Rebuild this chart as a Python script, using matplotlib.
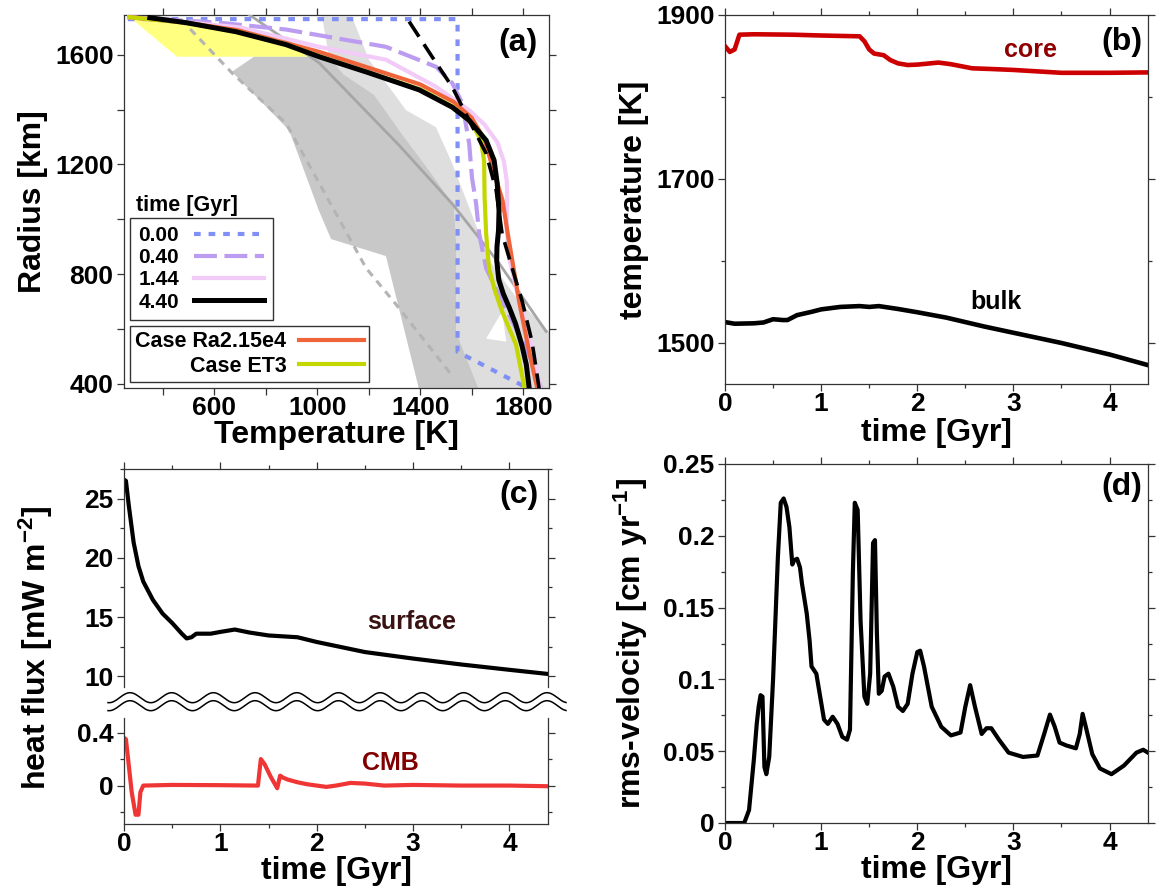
import numpy as np
import matplotlib.pyplot as plt
from matplotlib.lines import Line2D
from matplotlib.ticker import MultipleLocator, FuncFormatter

plt.rcParams['font.family'] = ['Liberation Sans', 'DejaVu Sans']
plt.rcParams['font.weight'] = 'bold'
plt.rcParams['axes.labelweight'] = 'bold'
plt.rcParams['mathtext.fontset'] = 'custom'
plt.rcParams['mathtext.rm'] = 'Liberation Sans:bold'
plt.rcParams['mathtext.it'] = 'Liberation Sans:bold'
plt.rcParams['mathtext.bf'] = 'Liberation Sans:bold'

W, H = 1156, 890

# ---------------- (a) temperature profiles: T [K], radius [km]
T_000 = [265, 1545, 1545, 1808]
R_000 = [1730, 1730, 517, 389]
T_040 = [265, 619, 879, 1267, 1462, 1524, 1563, 1590, 1601, 1617, 1629, 1656, 1718, 1784, 1834, 1870]
R_040 = [1737, 1717, 1692, 1629, 1556, 1497, 1424, 1277, 1152, 1057, 947, 822, 701, 580, 481, 382]
T_144 = [270, 700, 1007, 1267, 1462, 1590, 1650, 1700, 1725, 1736, 1738, 1735, 1745, 1775, 1810, 1845, 1866]
R_144 = [1737, 1700, 1629, 1582, 1483, 1398, 1345, 1280, 1210, 1140, 1070, 980, 860, 740, 620, 490, 382]
T_440 = [350, 491, 685, 879, 1007, 1201, 1396, 1524, 1590, 1656, 1687, 1699, 1706, 1704, 1698, 1697, 1705,
         1722, 1745, 1770, 1795, 1812, 1823]
R_440 = [1735, 1717, 1684, 1637, 1593, 1534, 1472, 1409, 1361, 1288, 1215, 1130, 1031, 960, 900, 850, 780,
         730, 680, 620, 540, 470, 385]
T_ra = [270, 480, 690, 1010, 1400, 1530, 1600, 1650, 1690, 1720, 1740, 1784, 1823, 1855]
R_ra = [1737, 1718, 1690, 1610, 1492, 1428, 1370, 1290, 1160, 1068, 947, 701, 517, 382]
T_et3 = [270, 490, 690, 880, 1010, 1200, 1400, 1525, 1600, 1635, 1648, 1650, 1656, 1667, 1690, 1718, 1772, 1805]
R_et3 = [1737, 1717, 1684, 1638, 1594, 1535, 1474, 1412, 1350, 1290, 1215, 1079, 947, 822, 740, 664, 543, 385]
T_adiab = [1357, 1446, 1524, 1590, 1656, 1695, 1718, 1757, 1796, 1834, 1862]
R_adiab = [1721, 1593, 1483, 1361, 1240, 1105, 947, 822, 701, 554, 382]
T_gray = [735, 1007, 1318, 1524, 1706, 1889]
R_gray = [1747, 1571, 1270, 1057, 840, 591]
T_grayd = [470, 669, 879, 1050, 1190, 1306, 1524]
R_grayd = [1730, 1534, 1350, 1060, 822, 690, 430]

# shaded ranges
T_dark = [669, 755, 1046, 1104, 1221, 1318, 1434, 1531, 1539, 1539, 1629, 1396, 1267, 1054, 1007, 891]
R_dark = [1538, 1593, 1593, 1527, 1453, 1325, 1178, 1050, 921, 591, 378, 378, 866, 928, 1031, 1325]
T_mid = [1019, 1135, 1201, 1345, 1461, 1524, 1580, 1670, 1784, 1900, 1900, 1629, 1539, 1539, 1531, 1318,
         1104, 1046]
R_mid = [1739, 1739, 1582, 1398, 1336, 1204, 1068, 848, 701, 591, 378, 378, 591, 921, 1050, 1325, 1527, 1593]
T_notch = [1656, 1718, 1734]
R_notch = [565, 664, 554]
T_yel = [269, 690, 1007, 1007, 456]
R_yel = [1739, 1690, 1610, 1593, 1593]

# ---------------- (b) temperatures vs time
t_core = [0, 0.05, 0.1, 0.15, 0.3, 0.7, 1.0, 1.4, 1.45, 1.5, 1.55, 1.6, 1.65, 1.72, 1.8, 1.9, 2.0, 2.22, 2.35, 2.57, 2.8, 3.0, 3.5, 4.0, 4.4]
T_core = [1862, 1855, 1858, 1876, 1876.5, 1876, 1875, 1874, 1868, 1858, 1853, 1852, 1851, 1845, 1841, 1839, 1839.5, 1842, 1840, 1835, 1834, 1833, 1829.5, 1829.5, 1830]
t_bulk = [0, 0.1, 0.3, 0.4, 0.5, 0.6, 0.65, 0.75, 0.9, 1.0, 1.2, 1.4, 1.5, 1.6, 1.8, 2.0, 2.3, 2.7, 3.0, 3.5, 4.0, 4.4]
T_bulk = [1525.5, 1523.5, 1524, 1525, 1529, 1528, 1528, 1534, 1538, 1541, 1544, 1545, 1544, 1545, 1541.5, 1537.5, 1531, 1520, 1512.5, 1500, 1486, 1473]

# ---------------- (c) heat flux
t_surf = [0, 0.02, 0.05, 0.1, 0.15, 0.2, 0.3, 0.4, 0.5, 0.6, 0.65, 0.7, 0.75, 0.9, 1.0, 1.15, 1.3, 1.5, 1.8, 2.0, 2.5, 3.0, 3.5, 4.0, 4.4]
q_surf = [26.6, 26.5, 24.4, 21.3, 19.3, 18.0, 16.45, 15.3, 14.5, 13.6, 13.2, 13.3, 13.6, 13.6, 13.75, 13.95, 13.7, 13.45, 13.3, 12.9, 12.05, 11.5, 11.0, 10.55, 10.2]
t_cmb = [0, 0.02, 0.08, 0.12, 0.15, 0.17, 0.2, 0.5, 1.0, 1.39, 1.42, 1.46, 1.52, 1.59, 1.62, 1.65, 1.7, 1.8, 1.9, 2.1, 2.2, 2.35, 2.5, 2.7, 3.0, 3.5, 4.0, 4.4]
q_cmb = [0.36, 0.35, -0.05, -0.22, -0.22, -0.05, 0.0, 0.005, 0.003, 0.0, 0.2, 0.16, 0.07, -0.02, 0.075, 0.06, 0.045, 0.025, 0.01, -0.01, 0.0, 0.02, 0.015, 0.0, 0.005, 0.0, 0.0, -0.005]

# ---------------- (d) rms velocity
t_v = [0, 0.2, 0.25, 0.3, 0.33, 0.35, 0.37, 0.39, 0.41, 0.43, 0.46, 0.5, 0.55, 0.58, 0.61, 0.64, 0.67, 0.7, 0.72,
       0.75, 0.78, 0.8, 0.85, 0.88, 0.9, 0.95, 0.98, 1.03, 1.07, 1.12, 1.17, 1.22, 1.27, 1.3, 1.33, 1.35, 1.38, 1.41,
       1.45, 1.48, 1.51, 1.54, 1.56, 1.58, 1.6, 1.63, 1.66, 1.7, 1.75, 1.8, 1.85, 1.9, 1.95, 2.0, 2.03, 2.07, 2.15,
       2.25, 2.35, 2.45, 2.5, 2.55, 2.6, 2.67, 2.72, 2.77, 2.85, 2.95, 3.1, 3.25, 3.32, 3.38, 3.43, 3.48, 3.55, 3.65,
       3.69, 3.72, 3.76, 3.82, 3.9, 4.02, 4.15, 4.28, 4.35, 4.4]
v_rms = [0, 0, 0.009, 0.044, 0.069, 0.081, 0.089, 0.088, 0.039, 0.034, 0.046, 0.1, 0.185, 0.223, 0.226, 0.22, 0.206,
         0.18, 0.183, 0.184, 0.178, 0.167, 0.146, 0.127, 0.109, 0.104, 0.092, 0.072, 0.069, 0.074, 0.069, 0.06, 0.058,
         0.065, 0.174, 0.223, 0.218, 0.141, 0.088, 0.083, 0.104, 0.195, 0.197, 0.132, 0.09, 0.092, 0.102, 0.104,
         0.095, 0.081, 0.078, 0.083, 0.104, 0.119, 0.12, 0.109, 0.081, 0.067, 0.061, 0.063, 0.081, 0.096, 0.081,
         0.062, 0.066, 0.066, 0.058, 0.049, 0.046, 0.047, 0.062, 0.0755, 0.067, 0.056, 0.054, 0.052, 0.062, 0.076,
         0.065, 0.048, 0.038, 0.034, 0.04, 0.049, 0.051, 0.049]

TICK = 19
LAB = 23


def px_axes(x0, y0, x1, y1):
    return fig.add_axes([x0 / W, 1 - y1 / H, (x1 - x0) / W, (y1 - y0) / H])


def style(ax, minor_len=3):
    for s in ax.spines.values():
        s.set_color('#333333')
        s.set_linewidth(0.9)
    ax.tick_params(which='both', direction='out', top=True, right=True,
                   color='#333333', width=0.9, labelsize=TICK, pad=2.5)
    ax.tick_params(axis='x', which='both', pad=1)
    ax.tick_params(which='major', length=5)
    ax.tick_params(which='minor', length=minor_len)


def xlabel_at(ax, text, top_px, ax_bottom_px, ax_h_px):
    ax.set_xlabel(text, fontsize=LAB)
    ax.xaxis.set_label_coords(0.5, (ax_bottom_px - top_px) / ax_h_px)
    ax.xaxis.label.set_va('top')


fig = plt.figure(figsize=(W / 100, H / 100), dpi=100)

# ---------- (a)
axA = px_axes(124, 15, 549, 388)
axA.fill(T_mid, R_mid, color='#dedede', lw=0, zorder=1)
axA.fill(T_dark, R_dark, color='#c8c8c8', lw=0, zorder=1)
axA.fill(T_notch, R_notch, color='white', lw=0, zorder=1.5)
axA.fill(T_yel, R_yel, color='#ffff55', alpha=0.75, lw=0, zorder=2)
axA.plot(T_gray, R_gray, color='#a6a6a6', lw=2, zorder=3)
axA.plot(T_grayd, R_grayd, color='#b4b4b4', lw=2.2, dashes=(2.5, 2), zorder=3)
l0, = axA.plot(T_000, R_000, color='#7f8ff5', lw=3, dashes=(1.6, 1.9), zorder=4)
l1, = axA.plot(T_040, R_040, color='#bb9cf0', lw=3, dashes=(5.5, 1.8), zorder=4)
l2, = axA.plot(T_144, R_144, color='#f2cbf8', lw=3, zorder=4)
lr, = axA.plot(T_ra, R_ra, color='#f0643c', lw=3, zorder=5)
lg, = axA.plot(T_et3, R_et3, color='#c4d600', lw=3, zorder=5)
l3, = axA.plot(T_440, R_440, color='black', lw=3.6, zorder=6, solid_joinstyle='round')
axA.plot(T_adiab, R_adiab, color='black', lw=2.6, dashes=(5, 2.5), zorder=6)
axA.set_xlim(250, 1900)
axA.set_ylim(385, 1745)
axA.set_xticks([600, 1000, 1400, 1800])
axA.set_xticks([400, 800, 1200, 1600], minor=True)
axA.set_yticks([400, 800, 1200, 1600])
axA.set_yticks([600, 1000, 1400], minor=True)
style(axA, minor_len=5)
xlabel_at(axA, 'Temperature [K]', 420, 388, 373)
axA.set_ylabel('Radius [km]', fontsize=LAB)
axA.yaxis.set_label_coords(-0.178, 0.5)
axA.text(0.974, 0.965, '(a)', transform=axA.transAxes, ha='right', va='top', fontsize=LAB)

leg1 = axA.legend([l0, l1, l2, l3], ['0.00', '0.40', '1.44', '4.40'], loc='upper left',
                  bbox_to_anchor=(0.014, 0.456), borderaxespad=0, markerfirst=False,
                  fontsize=15, handlelength=3.4, handletextpad=0.7, labelspacing=0.15,
                  borderpad=0.4, fancybox=False, edgecolor='#333333', framealpha=1)
leg1.get_frame().set_linewidth(1)
leg1.set_zorder(10)
axA.add_artist(leg1)
leg2 = axA.legend([lr, lg], ['Case Ra2.15e4', 'Case ET3'], loc='upper left',
                  bbox_to_anchor=(0.014, 0.166), borderaxespad=0, markerfirst=False,
                  fontsize=15.5, handlelength=3.0, handletextpad=0.6, labelspacing=0.15,
                  borderpad=0.25, fancybox=False, edgecolor='#333333', framealpha=1)
leg2.get_frame().set_linewidth(1)
leg2.set_zorder(10)
axA.text(0.028, 0.49, 'time [Gyr]', transform=axA.transAxes, ha='left', va='center', fontsize=15.5)

# ---------- (b)
axB = px_axes(725, 15, 1148, 384)
axB.plot(t_core, T_core, color='#cc0000', lw=3.3)
axB.plot(t_bulk, T_bulk, color='black', lw=3.3)
axB.set_xlim(0, 4.4)
axB.set_ylim(1450, 1900)
axB.set_yticks([1500, 1700, 1900])
axB.set_yticks([1600, 1800], minor=True)
axB.xaxis.set_major_locator(MultipleLocator(1))
axB.xaxis.set_minor_locator(MultipleLocator(0.5))
style(axB)
xlabel_at(axB, 'time [Gyr]', 418, 384, 369)
axB.set_ylabel('temperature [K]', fontsize=LAB)
axB.yaxis.set_label_coords(-0.18, 0.5)
axB.text(3.18, 1857, 'core', color='#900000', fontsize=18, ha='center', va='center')
axB.text(2.82, 1550, 'bulk', color='black', fontsize=18, ha='center', va='center')
axB.text(0.986, 0.967, '(b)', transform=axB.transAxes, ha='right', va='top', fontsize=LAB)

# ---------- (c) broken axis
axC1 = px_axes(124, 469, 548, 687)
axC2 = px_axes(124, 718, 548, 824)
axC1.plot(t_surf, q_surf, color='black', lw=3)
axC2.plot(t_cmb, q_cmb, color='#f03535', lw=3)
for ax in (axC1, axC2):
    ax.set_xlim(0, 4.4)
    ax.xaxis.set_major_locator(MultipleLocator(1))
    ax.xaxis.set_minor_locator(MultipleLocator(0.5))
    style(ax)
axC1.set_ylim(9.1, 27.5)
axC1.yaxis.set_major_locator(MultipleLocator(5))
axC1.yaxis.set_minor_locator(MultipleLocator(2.5))
axC1.spines['bottom'].set_visible(False)
axC1.tick_params(which='both', bottom=False, labelbottom=False)
axC2.set_ylim(-0.29, 0.51)
axC2.set_yticks([0, 0.4])
axC2.set_yticks([-0.2, 0.2], minor=True)
axC2.yaxis.set_major_formatter(FuncFormatter(lambda v, p: '%g' % v))
axC2.spines['top'].set_visible(False)
axC2.tick_params(which='both', top=False)
xlabel_at(axC2, 'time [Gyr]', 856, 824, 106)
axC1.text(2.99, 14.6, 'surface', color='#3a1212', fontsize=18, ha='center', va='center')
axC2.text(2.76, 0.17, 'CMB', color='#800000', fontsize=18, ha='center', va='center')
axC1.text(0.979, 0.95, '(c)', transform=axC1.transAxes, ha='right', va='top', fontsize=LAB)
fig.text(36 / W, 1 - 648 / H, 'heat flux [mW m$^{-2}$]', rotation=90, ha='center', va='center',
         fontsize=LAB)

# wavy break marks
xs = np.linspace(108, 566, 600)
for yc in (697.7, 705.7):
    ys = yc - 5 * np.cos(2 * np.pi * (xs - 130) / 41.7)
    fig.add_artist(Line2D(xs / W, 1 - ys / H, transform=fig.transFigure, color='black', lw=1.1))

# ---------- (d)
axD = px_axes(725, 464, 1148, 823)
axD.plot(t_v, v_rms, color='black', lw=3, solid_joinstyle='round')
axD.set_xlim(0, 4.4)
axD.set_ylim(0, 0.25)
axD.xaxis.set_major_locator(MultipleLocator(1))
axD.xaxis.set_minor_locator(MultipleLocator(0.5))
axD.yaxis.set_major_locator(MultipleLocator(0.05))
axD.yaxis.set_minor_locator(MultipleLocator(0.025))
axD.yaxis.set_major_formatter(FuncFormatter(lambda v, p: '%g' % round(v, 3)))
style(axD)
xlabel_at(axD, 'time [Gyr]', 855, 823, 359)
axD.set_ylabel('rms-velocity [cm yr$^{-1}$]', fontsize=LAB)
axD.yaxis.set_label_coords(-0.178, 0.5)
axD.text(0.986, 0.978, '(d)', transform=axD.transAxes, ha='right', va='top', fontsize=LAB)

fig.savefig('out.png', dpi=100)
